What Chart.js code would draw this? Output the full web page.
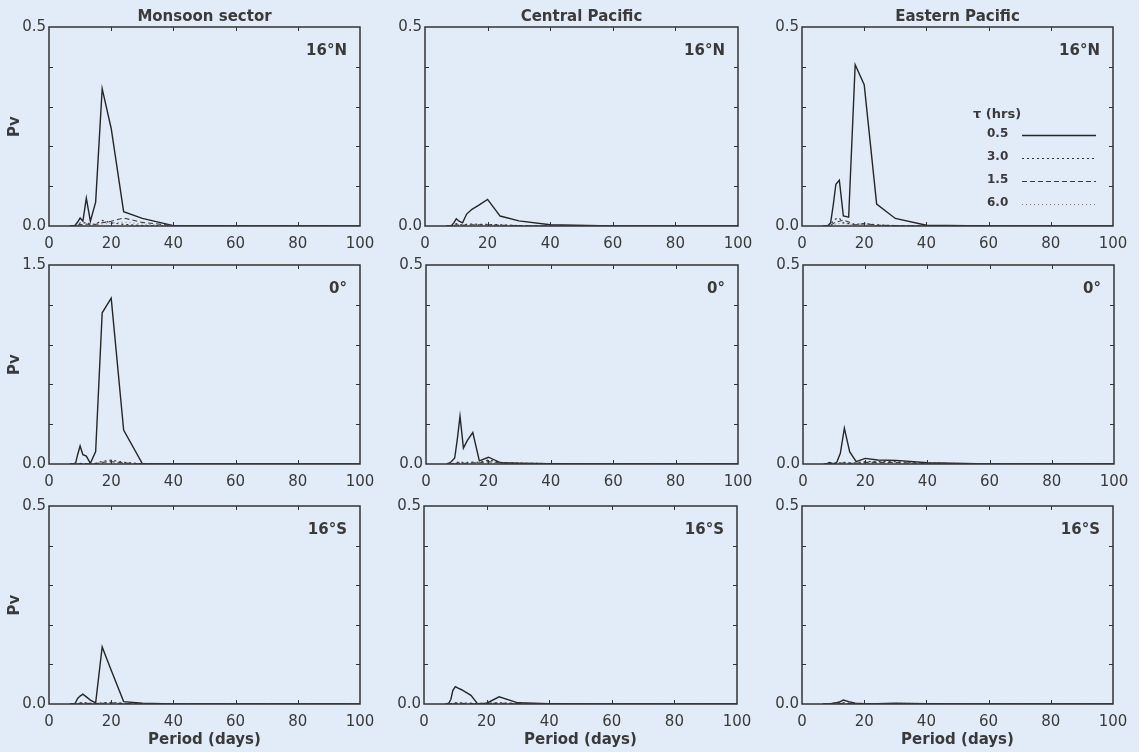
<!DOCTYPE html>
<html>
<head>
<meta charset="utf-8">
<script src="https://cdn.jsdelivr.net/npm/chart.js@4.4.1/dist/chart.umd.min.js"></script>
<style>
  html, body { margin: 0; padding: 0; background: #e2ecf8; }
  body { width: 1139px; height: 752px; position: relative; overflow: hidden; }
  canvas { position: absolute; }
</style>
</head>
<body>
<script>
// periods (days) at which the spectra are given
var periods = [6.7, 7.5, 8.0, 8.6, 9.2, 10.0, 10.9, 12.0, 13.3, 15.0, 17.1, 20.0, 24.0, 30.0, 40.0, 60.0, 120.0];

var xTicks = [0, 20, 40, 60, 80, 100];
var colTitles = ['Monsoon sector', 'Central Pacific', 'Eastern Pacific'];
var rowLabels = ['16°N', '0°', '16°S'];
var tauLabels = ['0.5', '3.0', '1.5', '6.0'];

// Monsoon sector, 16N
var mon16N_05 = [0, 0, 0, 0.004, 0.01, 0.02, 0.012, 0.07, 0.012, 0.06, 0.345, 0.245, 0.036, 0.019, 0.001, 0, 0];
var mon16N_30 = [0, 0, 0, 0, 0.003, 0.008, 0.006, 0.01, 0.004, 0.005, 0.014, 0.008, 0.004, 0.001, 0, 0, 0];
var mon16N_15 = [0, 0, 0, 0, 0.002, 0.004, 0.003, 0.005, 0.003, 0.004, 0.008, 0.012, 0.02, 0.009, 0.001, 0, 0];
var mon16N_60 = [0, 0, 0, 0, 0.001, 0.002, 0.002, 0.003, 0.002, 0.003, 0.005, 0.007, 0.01, 0.005, 0, 0, 0];
// Central Pacific, 16N
var cen16N_05 = [0, 0, 0, 0.002, 0.008, 0.018, 0.012, 0.008, 0.03, 0.042, 0.052, 0.067, 0.025, 0.013, 0.003, 0, 0];
var cen16N_30 = [0, 0, 0, 0, 0.002, 0.006, 0.004, 0.003, 0.004, 0.005, 0.004, 0.004, 0.003, 0.001, 0, 0, 0];
var cen16N_15 = [0, 0, 0, 0, 0.001, 0.003, 0.002, 0.002, 0.003, 0.003, 0.003, 0.003, 0.002, 0.001, 0, 0, 0];
var cen16N_60 = [0, 0, 0, 0, 0.001, 0.002, 0.001, 0.001, 0.002, 0.002, 0.002, 0.002, 0.001, 0.001, 0, 0, 0];
// Eastern Pacific, 16N
var eas16N_05 = [0, 0, 0, 0.003, 0.008, 0.05, 0.105, 0.115, 0.025, 0.022, 0.405, 0.355, 0.055, 0.019, 0.002, 0, 0];
var eas16N_30 = [0, 0, 0, 0, 0.003, 0.012, 0.018, 0.02, 0.008, 0.006, 0.004, 0.006, 0.003, 0.001, 0, 0, 0];
var eas16N_15 = [0, 0, 0, 0, 0.002, 0.006, 0.01, 0.012, 0.015, 0.01, 0.003, 0.006, 0.002, 0.001, 0, 0, 0];
var eas16N_60 = [0, 0, 0, 0, 0.001, 0.003, 0.005, 0.006, 0.006, 0.005, 0.002, 0.003, 0.001, 0, 0, 0, 0];
// Monsoon sector, 0
var mon0_05 = [0, 0, 0, 0.01, 0.07, 0.136, 0.07, 0.06, 0.005, 0.093, 1.14, 1.25, 0.256, 0.003, 0, 0, 0];
var mon0_30 = [0, 0, 0, 0, 0.002, 0.004, 0.003, 0.003, 0.002, 0.005, 0.02, 0.03, 0.012, 0.002, 0, 0, 0];
var mon0_15 = [0, 0, 0, 0, 0.001, 0.002, 0.002, 0.002, 0.001, 0.003, 0.012, 0.018, 0.008, 0.001, 0, 0, 0];
var mon0_60 = [0, 0, 0, 0, 0.001, 0.001, 0.001, 0.001, 0.001, 0.002, 0.006, 0.01, 0.004, 0.001, 0, 0, 0];
// Central Pacific, 0
var cen0_05 = [0.001, 0.003, 0.005, 0.01, 0.015, 0.06, 0.12, 0.04, 0.06, 0.079, 0.008, 0.017, 0.003, 0.002, 0.001, 0, 0];
var cen0_30 = [0, 0, 0, 0.001, 0.002, 0.004, 0.006, 0.003, 0.004, 0.005, 0.004, 0.01, 0.004, 0.002, 0.001, 0, 0];
var cen0_15 = [0, 0, 0, 0, 0.001, 0.002, 0.003, 0.002, 0.002, 0.003, 0.003, 0.006, 0.003, 0.001, 0, 0, 0];
var cen0_60 = [0, 0, 0, 0, 0.001, 0.001, 0.001, 0.001, 0.001, 0.001, 0.002, 0.003, 0.002, 0.001, 0, 0, 0];
// Eastern Pacific, 0
var eas0_05 = [0, 0, 0.002, 0.004, 0.002, 0.001, 0.005, 0.027, 0.09, 0.031, 0.006, 0.014, 0.01, 0.009, 0.003, 0, 0];
var eas0_30 = [0, 0, 0, 0.001, 0.001, 0.001, 0.002, 0.003, 0.004, 0.003, 0.003, 0.006, 0.006, 0.006, 0.002, 0, 0];
var eas0_15 = [0, 0, 0, 0, 0.001, 0.001, 0.001, 0.002, 0.003, 0.002, 0.002, 0.004, 0.004, 0.004, 0.001, 0, 0];
var eas0_60 = [0, 0, 0, 0, 0, 0.001, 0.001, 0.001, 0.001, 0.001, 0.001, 0.002, 0.002, 0.002, 0.001, 0, 0];
// Monsoon sector, 16S
var mon16S_05 = [0, 0, 0, 0.004, 0.014, 0.02, 0.025, 0.018, 0.01, 0.003, 0.144, 0.085, 0.006, 0.002, 0, 0, 0];
var mon16S_30 = [0, 0, 0, 0, 0.002, 0.003, 0.004, 0.003, 0.002, 0.001, 0.003, 0.004, 0.002, 0.001, 0, 0, 0];
var mon16S_15 = [0, 0, 0, 0, 0.001, 0.002, 0.002, 0.002, 0.001, 0.001, 0.002, 0.003, 0.001, 0, 0, 0, 0];
var mon16S_60 = [0, 0, 0, 0, 0, 0.001, 0.001, 0.001, 0.001, 0, 0.001, 0.001, 0.001, 0, 0, 0, 0];
// Central Pacific, 16S
var cen16S_05 = [0, 0.001, 0.003, 0.012, 0.034, 0.044, 0.04, 0.036, 0.03, 0.022, 0.001, 0.002, 0.018, 0.003, 0.001, 0, 0];
var cen16S_30 = [0, 0, 0, 0.001, 0.002, 0.003, 0.003, 0.003, 0.002, 0.002, 0.001, 0.002, 0.003, 0.001, 0, 0, 0];
var cen16S_15 = [0, 0, 0, 0, 0.001, 0.002, 0.002, 0.002, 0.001, 0.001, 0.001, 0.001, 0.002, 0.001, 0, 0, 0];
var cen16S_60 = [0, 0, 0, 0, 0, 0.001, 0.001, 0.001, 0.001, 0.001, 0, 0.001, 0.001, 0, 0, 0, 0];
// Eastern Pacific, 16S
var eas16S_05 = [0, 0, 0, 0, 0.001, 0.002, 0.003, 0.005, 0.01, 0.006, 0.002, 0.001, 0.001, 0.002, 0.001, 0, 0];
var eas16S_30 = [0, 0, 0, 0, 0, 0.001, 0.001, 0.002, 0.003, 0.002, 0.001, 0.001, 0.001, 0.001, 0, 0, 0];
var eas16S_15 = [0, 0, 0, 0, 0, 0.001, 0.001, 0.001, 0.002, 0.001, 0.001, 0, 0.001, 0.001, 0, 0, 0];
var eas16S_60 = [0, 0, 0, 0, 0, 0, 0.001, 0.001, 0.001, 0.001, 0, 0, 0, 0, 0, 0, 0];

// line style per tau
var tauStyles = [
  { color: '#262626', width: 1.4, dash: [] },
  { color: '#333333', width: 1.2, dash: [2, 3] },
  { color: '#3d3d3d', width: 1.1, dash: [5, 3] },
  { color: '#777777', width: 1, dash: [1, 3] }
];

var textColor = '#3a3a3a';
var fontFam = "'DejaVu Sans', sans-serif";

// plot boxes: left, top, right, bottom
var panels = [
  { row: 0, col: 0, L: 49, T: 27, R: 360, B: 226, ymax: 0.5, ystep: 0.1, series: [mon16N_05, mon16N_30, mon16N_15, mon16N_60] },
  { row: 0, col: 1, L: 425, T: 27, R: 738, B: 226, ymax: 0.5, ystep: 0.1, series: [cen16N_05, cen16N_30, cen16N_15, cen16N_60] },
  { row: 0, col: 2, L: 802, T: 27, R: 1113, B: 226, ymax: 0.5, ystep: 0.1, series: [eas16N_05, eas16N_30, eas16N_15, eas16N_60], legend: true },
  { row: 1, col: 0, L: 49, T: 265, R: 360, B: 464, ymax: 1.5, ystep: 0.3, series: [mon0_05, mon0_30, mon0_15, mon0_60] },
  { row: 1, col: 1, L: 426, T: 265, R: 738, B: 464, ymax: 0.5, ystep: 0.1, series: [cen0_05, cen0_30, cen0_15, cen0_60] },
  { row: 1, col: 2, L: 803, T: 265, R: 1114, B: 464, ymax: 0.5, ystep: 0.1, series: [eas0_05, eas0_30, eas0_15, eas0_60] },
  { row: 2, col: 0, L: 49, T: 506, R: 360, B: 704, ymax: 0.5, ystep: 0.1, series: [mon16S_05, mon16S_30, mon16S_15, mon16S_60] },
  { row: 2, col: 1, L: 424, T: 506, R: 737, B: 704, ymax: 0.5, ystep: 0.1, series: [cen16S_05, cen16S_30, cen16S_15, cen16S_60] },
  { row: 2, col: 2, L: 802, T: 506, R: 1113, B: 704, ymax: 0.5, ystep: 0.1, series: [eas16S_05, eas16S_30, eas16S_15, eas16S_60] }
];

// frame, inward ticks, panel labels and the tau legend
var panelDecor = {
  id: 'panelDecor',
  afterDraw: function(chart) {
    var p = chart.options.plugins.panelDecor;
    var ctx = chart.ctx;
    var a = chart.chartArea;
    var ys = chart.scales.y, xs = chart.scales.x;
    ctx.save();
    ctx.strokeStyle = '#333';
    ctx.lineWidth = 1.5;
    ctx.setLineDash([]);
    ctx.strokeRect(a.left, a.top, a.right - a.left, a.bottom - a.top);

    ctx.lineWidth = 1;
    ctx.beginPath();
    ys.ticks.forEach(function(t) {
      var y = Math.round(ys.getPixelForValue(t.value)) + 0.5;
      if (y < a.top + 2 || y > a.bottom - 2) return;
      ctx.moveTo(a.left, y); ctx.lineTo(a.left + 4, y);
      ctx.moveTo(a.right, y); ctx.lineTo(a.right - 4, y);
    });
    xTicks.forEach(function(v) {
      var x = Math.round(xs.getPixelForValue(v)) + 0.5;
      if (x < a.left + 2 || x > a.right - 2) return;
      ctx.moveTo(x, a.bottom); ctx.lineTo(x, a.bottom - 4);
      ctx.moveTo(x, a.top); ctx.lineTo(x, a.top + 4);
    });
    ctx.stroke();

    ctx.fillStyle = textColor;
    ctx.font = 'bold 15px ' + fontFam;
    ctx.textBaseline = 'middle';
    ctx.textAlign = 'right';
    ctx.fillText(rowLabels[p.row], a.right - 13, a.top + 24);

    if (p.row === 0) {
      ctx.textAlign = 'center';
      ctx.fillText(colTitles[p.col], (a.left + a.right) / 2, a.top - 10);
    }

    if (p.legend) {
      ctx.textAlign = 'left';
      ctx.font = 'bold 13px ' + fontFam;
      ctx.fillText('\u03c4 (hrs)', a.left + 171, a.top + 88);
      ctx.font = 'bold 12px ' + fontFam;
      tauLabels.forEach(function(lab, i) {
        var y = a.top + 107 + i * 23;
        ctx.fillStyle = textColor;
        ctx.fillText(lab, a.left + 185, y);
        var st = tauStyles[i];
        ctx.strokeStyle = st.color;
        ctx.lineWidth = st.width;
        ctx.setLineDash(st.dash);
        ctx.beginPath();
        ctx.moveTo(a.left + 220, y + 1.5);
        ctx.lineTo(a.left + 294, y + 1.5);
        ctx.stroke();
      });
    }
    ctx.restore();
  }
};

function makePanel(p) {
  var cv = document.createElement('canvas');
  var w = p.R - p.L + 49 + 20;
  var h = p.B - p.T + 27 + 48;
  cv.width = w; cv.height = h;
  cv.style.width = w + 'px'; cv.style.height = h + 'px';
  cv.style.left = (p.L - 49) + 'px';
  cv.style.top = (p.T - 27) + 'px';
  document.body.appendChild(cv);

  var datasets = p.series.map(function(vals, i) {
    return {
      label: tauLabels[i],
      data: periods.map(function(x, j) { return { x: x, y: vals[j] }; }),
      borderColor: tauStyles[i].color,
      borderWidth: tauStyles[i].width,
      borderDash: tauStyles[i].dash,
      pointRadius: 0,
      tension: 0,
      fill: false
    };
  }).reverse();

  new Chart(cv, {
    type: 'line',
    data: { datasets: datasets },
    options: {
      responsive: false,
      animation: false,
      devicePixelRatio: 1,
      layout: { padding: { top: 27, right: 20, left: 0, bottom: 0 } },
      plugins: {
        legend: { display: false },
        tooltip: { enabled: false },
        panelDecor: { row: p.row, col: p.col, legend: !!p.legend }
      },
      scales: {
        x: {
          type: 'linear', min: 0, max: 100,
          grid: { display: false, drawTicks: false },
          border: { display: false },
          ticks: { stepSize: 20, padding: 9, maxRotation: 0, autoSkip: false, color: textColor, font: { family: fontFam, size: 15 } },
          title: { display: p.row === 2, text: 'Period (days)', color: textColor, padding: { top: 0, bottom: 3 }, font: { family: fontFam, size: 15, weight: 'bold' } },
          afterFit: function(s) { s.height = 48; s.paddingLeft = 0; s.paddingRight = 0; }
        },
        y: {
          min: 0, max: p.ymax,
          grid: { display: false, drawTicks: false },
          border: { display: false },
          ticks: {
            stepSize: p.ystep, padding: 3, autoSkip: false, color: textColor, font: { family: fontFam, size: 15 },
            callback: function(v) {
              if (Math.abs(v) < 1e-9 || Math.abs(v - p.ymax) < 1e-9) return v.toFixed(1);
              return '';
            }
          },
          title: { display: p.col === 0, text: 'Pv', color: textColor, padding: { top: 6, bottom: 0 }, font: { family: fontFam, size: 15, weight: 'bold' } },
          afterFit: function(s) { s.width = 49; s.paddingTop = 0; s.paddingBottom = 0; }
        }
      }
    },
    plugins: [panelDecor]
  });
}

panels.forEach(makePanel);
</script>
</body>
</html>
